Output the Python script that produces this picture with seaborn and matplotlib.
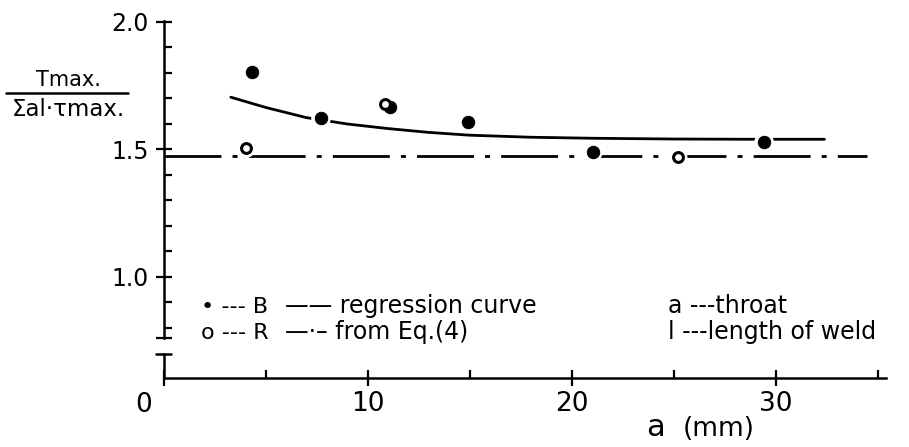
import matplotlib
matplotlib.use("Agg")
import matplotlib.pyplot as plt
import matplotlib.transforms as mtransforms
from matplotlib.lines import Line2D
import seaborn as sns
import pandas as pd

# values
b_a = [4.35, 7.72, 11.1, 14.94, 21.04, 29.44]
b_ratio = [1.805, 1.622, 1.665, 1.609, 1.489, 1.528]
r_a = [4.03, 10.86, 25.2]
r_ratio = [1.505, 1.678, 1.469]
curve_a = [3.3, 5, 7, 9, 11, 13, 15, 18, 21, 25, 29, 32.4]
curve_ratio = [1.705, 1.665, 1.625, 1.600, 1.582, 1.567, 1.556, 1.548,
               1.544, 1.541, 1.540, 1.540]
eq4_a = [0, 34.5]
eq4_ratio = [1.475, 1.475]

x_major = [0, 10, 20, 30]
x_major_labels = ["", "10", "20", "30"]
x_minor = [5, 15, 25, 35]
y_major = [0.76, 1.0, 1.5, 2.0]
y_major_labels = ["", "1.0", "1.5", "2.0"]
y_minor = [0.8, 0.9, 1.1, 1.2, 1.3, 1.4, 1.6, 1.7, 1.8, 1.9]

sns.set_style("ticks")
plt.rcParams["font.family"] = ["DejaVu Sans"]
plt.rcParams["text.color"] = "black"
plt.rcParams["xtick.color"] = "black"
plt.rcParams["ytick.color"] = "black"
plt.rcParams["axes.edgecolor"] = "black"

W, H = 909, 447
fig = plt.figure(figsize=(W / 100, H / 100), dpi=100)


def px(x, y):
    return x / W, 1 - y / H


ax = fig.add_axes([163.5 / W, (H - 377.7) / H, (885.7 - 163.5) / W, 357 / H])

eq4 = pd.DataFrame({"a": eq4_a, "ratio": eq4_ratio})
curve = pd.DataFrame({"a": curve_a, "ratio": curve_ratio})
dfb = pd.DataFrame({"a": b_a, "ratio": b_ratio})
dfr = pd.DataFrame({"a": r_a, "ratio": r_ratio})

sns.lineplot(data=eq4, x="a", y="ratio", ax=ax, color="black", lw=2.0,
             zorder=2).lines[-1].set_dashes((20.5, 4, 1.8, 4))
sns.lineplot(data=curve, x="a", y="ratio", ax=ax, color="black", lw=2.0, zorder=2)

# white halo so the lines break around the points, as in the original
sns.scatterplot(data=pd.concat([dfb, dfr]), x="a", y="ratio", ax=ax, s=200,
                color="white", edgecolor="none", zorder=3)
sns.scatterplot(data=dfb, x="a", y="ratio", ax=ax, s=80, color="black",
                edgecolor="black", zorder=4)
sns.scatterplot(data=dfr, x="a", y="ratio", ax=ax, s=50, color="white",
                edgecolor="black", linewidth=2.2, zorder=4)

ax.set_xlim(0, 35.4)
ax.set_ylim(0.605, 2.005)
sns.despine(ax=ax)
ax.spines["left"].set_bounds(0.76, 2.005)
ax.spines["left"].set_linewidth(1.8)
ax.spines["bottom"].set_linewidth(1.8)

ax.set_xticks(x_major)
ax.set_xticklabels(x_major_labels)
ax.set_xticks(x_minor, minor=True)
ax.set_yticks(y_major)
ax.set_yticklabels(y_major_labels)
ax.set_yticks(y_minor, minor=True)
ax.tick_params(which="major", direction="inout", length=11, width=1.6)
ax.tick_params(axis="x", which="major", labelsize=19, pad=4)
ax.tick_params(axis="y", which="major", labelsize=17, pad=5)
ax.tick_params(which="minor", direction="in", length=6, width=1.6)
ax.set_xlabel("")
ax.set_ylabel("")

# axis break at the bottom of the y axis
blend = mtransforms.blended_transform_factory(ax.transAxes, ax.transData)
ax.plot([0, 0], [0.605, 0.697], color="black", lw=1.8, transform=blend,
        clip_on=False)
ax.plot([-0.011, 0.011], [0.697, 0.697], color="black", lw=1.8,
        transform=blend, clip_on=False)

ax.annotate("0", xy=(0, 0), xycoords=("data", "axes fraction"),
            xytext=(-20, -14), textcoords="offset pixels", ha="center",
            va="top", fontsize=19)
fig.text(*px(656, 436), "a", ha="center", va="baseline", fontsize=22)
fig.text(*px(683, 436), "(mm)", ha="left", va="baseline", fontsize=19)

# y label as a fraction
fig.text(*px(68, 86), "Tmax.", ha="center", va="baseline", fontsize=15)
fig.text(*px(68, 116), "Σal·τmax.", ha="center", va="baseline", fontsize=16.5)
fig.add_artist(Line2D([6 / W, 128 / W], [1 - 93 / H] * 2,
                      transform=fig.transFigure, color="black", lw=1.8))

# key written as text, like the original
row1, row2 = 313, 339
fs = 17
fig.text(*px(201, row1), "• --- B", ha="left", va="baseline", fontsize=16)
fig.text(*px(201, row2), "o --- R", ha="left", va="baseline", fontsize=16)
fig.text(*px(285, row1), "—— regression curve", ha="left", va="baseline", fontsize=fs)
fig.text(*px(285, row2), "—·– from Eq.(4)", ha="left", va="baseline", fontsize=fs)
fig.text(*px(668, row1), "a ---throat", ha="left", va="baseline", fontsize=fs)
fig.text(*px(668, row2), "l ---length of weld", ha="left", va="baseline", fontsize=fs)

fig.savefig("out.png", dpi=100)
